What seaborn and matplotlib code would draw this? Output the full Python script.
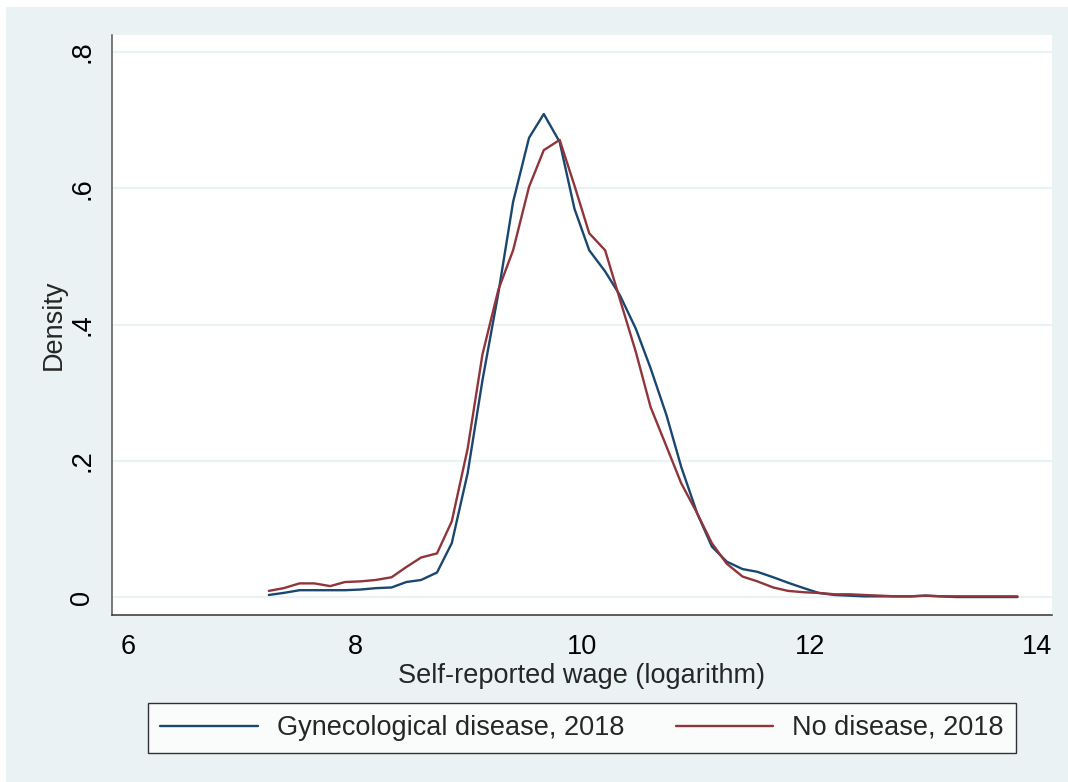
import numpy as np
import pandas as pd
import matplotlib
matplotlib.use("Agg")
import matplotlib.pyplot as plt
from matplotlib.patches import Rectangle
import seaborn as sns

# Kernel density estimates of log wage, evaluated on a common 50-point grid
wage_grid = [
    7.24, 7.37, 7.51, 7.64, 7.78, 7.91, 8.05, 8.18, 8.32, 8.45,
    8.58, 8.72, 8.85, 8.99, 9.12, 9.26, 9.39, 9.53, 9.66, 9.80,
    9.93, 10.06, 10.20, 10.33, 10.47, 10.60, 10.74, 10.87, 11.01, 11.14,
    11.27, 11.41, 11.54, 11.68, 11.81, 11.95, 12.08, 12.22, 12.35, 12.48,
    12.62, 12.75, 12.89, 13.02, 13.16, 13.29, 13.43, 13.56, 13.70, 13.83,
]
density_gyn = [
    0.003, 0.006, 0.010, 0.010, 0.010, 0.010, 0.011, 0.013, 0.014, 0.022,
    0.025, 0.036, 0.079, 0.182, 0.318, 0.446, 0.580, 0.674, 0.709, 0.668,
    0.570, 0.509, 0.478, 0.443, 0.394, 0.336, 0.267, 0.191, 0.123, 0.074,
    0.052, 0.041, 0.037, 0.029, 0.021, 0.013, 0.006, 0.003, 0.002, 0.001,
    0.001, 0.001, 0.001, 0.002, 0.001, 0.000, 0.000, 0.000, 0.000, 0.000,
]
density_none = [
    0.009, 0.013, 0.020, 0.020, 0.016, 0.022, 0.023, 0.025, 0.029, 0.044,
    0.058, 0.064, 0.111, 0.218, 0.356, 0.451, 0.509, 0.602, 0.656, 0.671,
    0.604, 0.534, 0.509, 0.437, 0.360, 0.279, 0.221, 0.167, 0.123, 0.079,
    0.049, 0.030, 0.023, 0.014, 0.009, 0.007, 0.006, 0.004, 0.004, 0.003,
    0.002, 0.001, 0.001, 0.002, 0.001, 0.001, 0.001, 0.001, 0.001, 0.001,
]
group_labels = ["Gynecological disease, 2018", "No disease, 2018"]
x_ticks = [6, 8, 10, 12, 14]
y_ticks = [0, 0.2, 0.4, 0.6, 0.8]
y_ticklabels = ["0", ".2", ".4", ".6", ".8"]

df = pd.DataFrame({
    "wage": wage_grid * 2,
    "density": density_gyn + density_none,
    "group": [group_labels[0]] * len(wage_grid) + [group_labels[1]] * len(wage_grid),
})

sns.set_style("white")
plt.rcParams["font.family"] = ["Liberation Sans", "DejaVu Sans"]

navy = "#1A476F"
maroon = "#90353B"
bg = "#EAF2F3"
fs = 19.5

fig = plt.figure(figsize=(10.68, 7.82), dpi=100, facecolor="white")
fig.patches.append(Rectangle((6 / 1068, 0), 1 - 6 / 1068, 1 - 7 / 782,
                             transform=fig.transFigure, facecolor=bg,
                             edgecolor="none", zorder=-10))

ax = fig.add_axes([112 / 1068, 1 - 615 / 782, 940 / 1068, 580 / 782])
ax.set_facecolor("white")

sns.lineplot(data=df, x="wage", y="density", hue="group",
             palette=[navy, maroon], estimator=None, sort=False,
             linewidth=1.7, ax=ax, legend=False)

ax.set_xlim(5.859, 14.134)
ax.set_ylim(-0.0264, 0.825)
ax.set_xticks(x_ticks)
ax.set_xticklabels([str(t) for t in x_ticks], fontsize=fs)
ax.set_yticks(y_ticks)
ax.set_yticklabels(y_ticklabels, fontsize=fs, rotation=90, va="center")

ax.grid(axis="y", color=bg, linewidth=1.6)
ax.grid(axis="x", visible=False)
ax.set_axisbelow(True)

for side in ["top", "right"]:
    ax.spines[side].set_visible(False)
ax.spines["left"].set_color("#555555")
ax.spines["bottom"].set_color("#333333")
ax.spines["left"].set_linewidth(1.1)
ax.spines["bottom"].set_linewidth(1.1)
ax.tick_params(axis="both", direction="out", length=8, width=1.0,
               color="#333333", labelcolor="black", pad=6)
ax.tick_params(axis="y", pad=4)

ax.set_xlabel("Self-reported wage (logarithm)", fontsize=fs, labelpad=2)
ax.set_ylabel("Density", fontsize=fs, labelpad=2)

handles = [plt.Line2D([], [], color=navy, linewidth=1.7),
           plt.Line2D([], [], color=maroon, linewidth=1.7)]
leg = fig.legend(handles, group_labels, loc="center", ncol=2,
                 bbox_to_anchor=(582 / 1068, 1 - 728 / 782),
                 fontsize=fs, frameon=True, fancybox=False,
                 handlelength=3.6, handletextpad=0.7, columnspacing=1.9,
                 borderpad=0.45, borderaxespad=0)
leg.get_frame().set_edgecolor("black")
leg.get_frame().set_linewidth(1.0)
leg.get_frame().set_facecolor("white")

fig.savefig("out.png", dpi=100, facecolor=fig.get_facecolor())
